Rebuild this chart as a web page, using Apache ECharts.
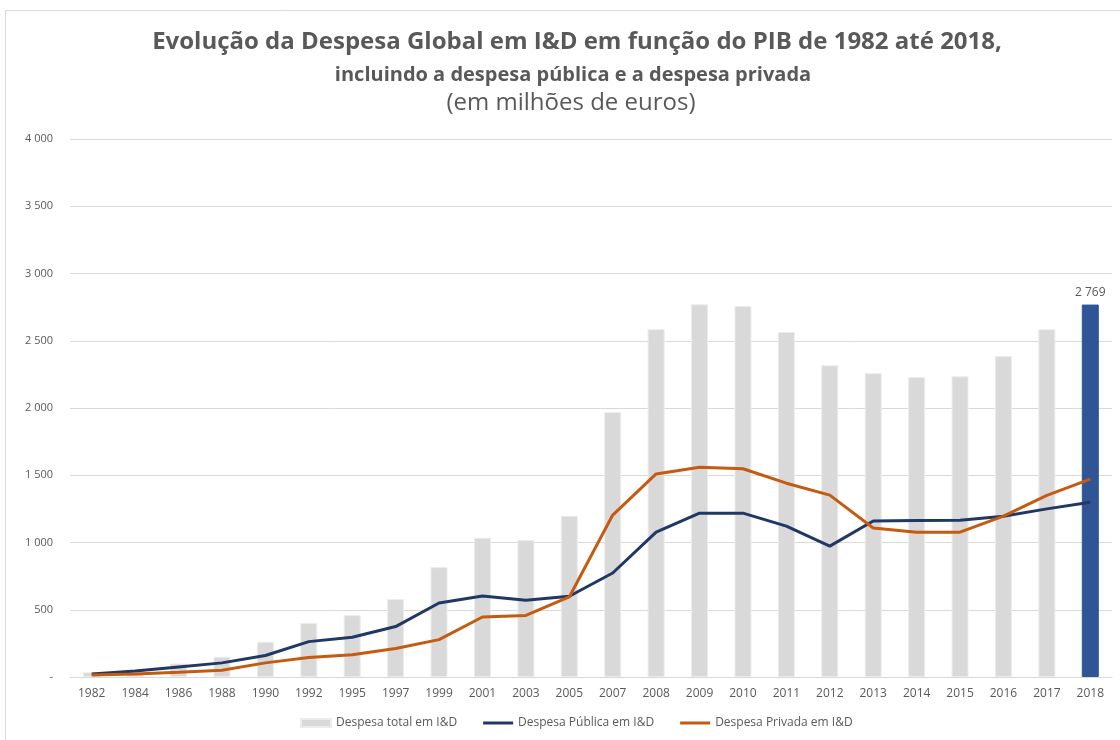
<!DOCTYPE html>
<html>
<head>
<meta charset="utf-8">
<script src="https://cdn.jsdelivr.net/npm/echarts@6/dist/echarts.min.js"></script>
<style>
  html, body { margin: 0; padding: 0; background: #fff; }
  #chart { width: 1120px; height: 740px; }
</style>
</head>
<body>
<div id="chart"></div>
<script>
// anos (eixo x)
const anos = ['1982', '1984', '1986', '1988', '1990', '1992', '1995', '1997', '1999', '2001', '2003', '2005',
  '2007', '2008', '2009', '2010', '2011', '2012', '2013', '2014', '2015', '2016', '2017', '2018']

// despesa total em I&D (barras)
const despesaTotal = [35, 45, 100, 150, 262, 402, 460, 580, 817, 1035, 1018, 1198,
  1970, 2586, 2771, 2758, 2565, 2318, 2259, 2230, 2236, 2386, 2586, 2769]

// despesa pública em I&D
const despesaPublica = [22, 45, 75, 105, 160, 263, 295, 375, 550, 602, 570, 600,
  773, 1077, 1218, 1218, 1122, 973, 1160, 1163, 1165, 1195, 1250, 1300]

// despesa privada em I&D
const despesaPrivada = [15, 22, 35, 50, 105, 145, 165, 212, 278, 446, 458, 595,
  1204, 1510, 1560, 1548, 1441, 1352, 1108, 1077, 1077, 1196, 1350, 1471]

const cinza = '#d9d9d9'
const azulBarra = '#2f5597'
const azulLinha = '#1f3864'
const laranja = '#c55a11'
const texto = '#595959'
const fonte = '"Open Sans", sans-serif'

// formata 2769 -> "2 769", 0 -> "-"
const fmt = (v) => v === 0 ? '-' : String(v).replace(/\B(?=(\d{3})+(?!\d))/g, ' ')

// ícone de linha para a legenda (sem marcador)
const iconeLinha = 'path://M0,0 L30,0 L30,3 L0,3 Z'

const chart = echarts.init(document.getElementById('chart'))

const option = {
  backgroundColor: '#fff',
  textStyle: { fontFamily: fonte, color: texto },
  title: [
    {
      text: 'Evolução da Despesa Global em I&D em função do PIB de 1982 até 2018,',
      left: 577, top: 30, textAlign: 'center', padding: 0,
      textStyle: { fontSize: 24, fontWeight: 'bold', color: texto, fontFamily: fonte }
    },
    {
      text: 'incluindo a despesa pública e a despesa privada',
      left: 573, top: 65, textAlign: 'center', padding: 0,
      textStyle: { fontSize: 20, fontWeight: 'bold', color: texto, fontFamily: fonte }
    },
    {
      text: '(em milhões de euros)',
      left: 571, top: 91, textAlign: 'center', padding: 0,
      textStyle: { fontSize: 24, fontWeight: 'normal', color: texto, fontFamily: fonte }
    }
  ],
  // moldura exterior
  graphic: [
    {
      type: 'rect',
      shape: { x: 5.5, y: 10.5, width: 1200, height: 800 },
      style: { fill: 'none', stroke: '#d9d9d9', lineWidth: 1 },
      silent: true
    }
  ],
  legend: {
    bottom: 6,
    left: 295,
    itemWidth: 30,
    itemHeight: 8,
    itemGap: 26,
    textStyle: { fontSize: 12, color: texto, fontFamily: fonte },
    data: [
      { name: 'Despesa total em I&D', icon: 'rect' },
      { name: 'Despesa Pública em I&D', icon: iconeLinha },
      { name: 'Despesa Privada em I&D', icon: iconeLinha }
    ]
  },
  grid: { left: 70, right: 8, top: 139, bottom: 63 },
  xAxis: {
    type: 'category',
    data: anos,
    axisLine: { lineStyle: { color: '#d9d9d9', width: 1 } },
    axisTick: { show: false },
    axisLabel: { interval: 0, color: texto, fontSize: 12, margin: 11 }
  },
  yAxis: {
    type: 'value',
    min: 0,
    max: 4000,
    interval: 500,
    axisLine: { show: false },
    axisTick: { show: false },
    splitLine: { lineStyle: { color: '#d9d9d9', width: 1 } },
    axisLabel: { color: texto, fontSize: 11, margin: 17, formatter: fmt }
  },
  series: [
    {
      name: 'Despesa total em I&D',
      type: 'bar',
      barWidth: 17,
      itemStyle: { color: cinza, borderColor: '#ececec', borderWidth: 1 },
      data: despesaTotal.map((v, i) => i === despesaTotal.length - 1
        ? {
            value: v,
            itemStyle: { color: azulBarra, borderColor: azulBarra },
            label: { show: true, position: 'top', distance: 6, color: texto, fontSize: 12, formatter: (p) => fmt(p.value) }
          }
        : v),
      z: 1
    },
    {
      name: 'Despesa Pública em I&D',
      type: 'line',
      data: despesaPublica,
      symbol: 'none',
      lineStyle: { color: azulLinha, width: 3 },
      itemStyle: { color: azulLinha },
      z: 3
    },
    {
      name: 'Despesa Privada em I&D',
      type: 'line',
      data: despesaPrivada,
      symbol: 'none',
      lineStyle: { color: laranja, width: 3 },
      itemStyle: { color: laranja },
      z: 4
    }
  ]
}

chart.setOption(option)
</script>
</body>
</html>
